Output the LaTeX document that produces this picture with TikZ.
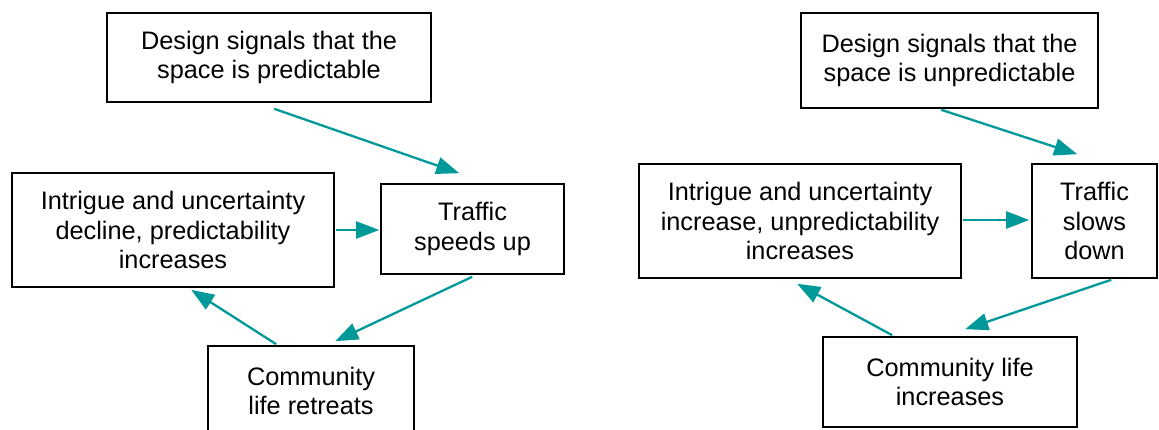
\documentclass[tikz,border=0pt]{standalone}
\usepackage{fontspec}
\setmainfont{Liberation Sans}
\usetikzlibrary{arrows.meta,calc}
\definecolor{flowteal}{RGB}{0,153,153}
\newcommand{\boxfont}{\fontsize{25.3}{29.5}\selectfont}
\tikzset{
  stepbox/.style={draw=black, line width=1.6pt, fill=white, align=center,
    inner sep=0pt, font=\boxfont},
  flow/.style={draw=flowteal, line width=2.3pt, line cap=butt,
    -{Triangle[length=23pt,width=17pt]}}
}
\begin{document}
\begin{tikzpicture}[x=1pt,y=-1pt]
  \useasboundingbox (0,0) rectangle (1159,430);
  \fill[white] (0,0) rectangle (1159,430);
  \clip (0,0) rectangle (1159,430);

  % ---- predictable space: traffic speeds up ----
  \node[stepbox, minimum width=324pt, minimum height=89pt] (d1) at (269,57.5)
    {Design signals that the\\space is predictable};
  \node[stepbox, minimum width=322pt, minimum height=114pt] (i1) at (173,230)
    {Intrigue and uncertainty\\decline, predictability\\increases};
  \node[stepbox, minimum width=183pt, minimum height=90pt] (t1) at (472.5,229)
    {Traffic\\speeds up};
  \node[stepbox, minimum width=206pt, minimum height=90pt] (c1) at (311,391)
    {Community\\life retreats};

  \draw[flow] ($(d1.south west)+(168,6)$) -- ($(t1.north west)+(79,-10)$);
  \draw[flow] ($(i1.east)+(1,0)$) -- ($(i1.east -| t1.west)+(-1,0)$);
  \draw[flow] ($(t1.south west)+(92,2)$) -- ($(c1.north west)+(128,-4)$);
  \draw[flow] ($(c1.north west)+(69,-1)$) -- ($(i1.south west)+(180,2)$);

  % ---- unpredictable space: traffic slows down ----
  \node[stepbox, minimum width=297pt, minimum height=95pt] (d2) at (949.5,60.5)
    {Design signals that the\\space is unpredictable};
  \node[stepbox, minimum width=322pt, minimum height=114pt] (i2) at (800,221)
    {Intrigue and uncertainty\\increase, unpredictability\\increases};
  \node[stepbox, minimum width=125pt, minimum height=114pt] (t2) at (1094.5,221)
    {Traffic\\slows\\down};
  \node[stepbox, minimum width=254pt, minimum height=90pt] (c2) at (950,382)
    {Community life\\increases};

  \draw[flow] ($(d2.south west)+(141,1)$) -- ($(t2.north west)+(46,-9)$);
  \draw[flow] ($(i2.east)+(1,-1)$) -- ($(t2.west)+(-2,-1)$);
  \draw[flow] ($(t2.south west)+(80,1)$) -- ($(c2.north west)+(143,-7)$);
  \draw[flow] ($(c2.north west)+(70,-1)$) -- ($(i2.south west)+(159,5)$);
\end{tikzpicture}
\end{document}
